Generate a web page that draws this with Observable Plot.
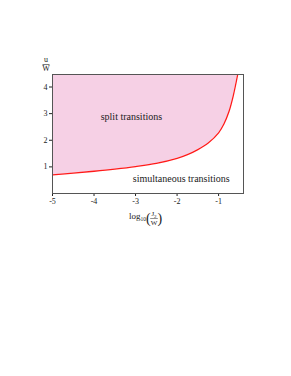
<!DOCTYPE html>
<html><head><meta charset="utf-8">
<script src="https://cdn.jsdelivr.net/npm/d3@7"></script>
<script src="https://cdn.jsdelivr.net/npm/@observablehq/plot@0.6"></script>
<style>
body{margin:0;background:#fff}
svg text{font-family:"Liberation Serif", serif !important;}
</style>
</head><body><div id="chart"></div>
<script>
const logJ2W = [-5, -4.5, -4, -3.5, -3, -2.5, -2, -1.75, -1.5, -1.25, -1.0, -0.875, -0.75, -0.65, -0.54];
const uW     = [0.70, 0.765, 0.835, 0.915, 1.01, 1.13, 1.32, 1.46, 1.65, 1.90, 2.28, 2.60, 3.08, 3.65, 4.47];
const xTicks = [-5, -4, -3, -2, -1];
const yTicks = [1, 2, 3, 4];
const regionLabels = ["split transitions", "simultaneous transitions"];
const regionX = [-3.1, -1.9];
const regionY = [2.88, 0.55];

const yTop = 4.47;
const data = logJ2W.map((x, i) => ({x, y: uW[i]}));
const labels = regionLabels.map((t, i) => ({t, x: regionX[i], y: regionY[i]}));
const font = '"Liberation Serif", serif';

const W = 291, H = 376, ml = 52, mr = 48, mt = 74, mb = 183;
const plot = Plot.plot({
  width: W, height: H,
  marginLeft: ml, marginRight: mr, marginTop: mt, marginBottom: mb,
  style: {fontFamily: font, fontSize: "8px", color: "#222", background: "#fff"},
  x: {domain: [-5, -0.4], ticks: xTicks, tickSize: 3, tickPadding: 2, label: null, tickFormat: d => String(d)},
  y: {domain: [0, yTop], ticks: yTicks, tickSize: 3, tickPadding: 2, label: null, tickFormat: d => String(d)},
  marks: [
    Plot.areaY(data, {x: "x", y1: "y", y2: yTop, fill: "#f6d0e5", curve: "catmull-rom", clip: true}),
    Plot.line(data, {x: "x", y: "y", stroke: "#ff1a1a", strokeWidth: 1.3, curve: "catmull-rom", clip: true}),
    Plot.frame({stroke: "#555", strokeWidth: 1}),
    Plot.text(labels, {x: "x", y: "y", text: "t", fontSize: 10, fill: "#222", fontFamily: font})
  ]
});
document.getElementById("chart").appendChild(plot);

const svg = d3.select(plot);
const g = svg.append("g").attr("fill", "#222").attr("text-anchor", "start").style("font-family", font);
// y label u / W
const yx = ml - 6;
g.append("text").attr("x", yx).attr("y", mt - 12).attr("text-anchor", "middle").attr("font-size", 8).text("u");
g.append("line").attr("x1", yx - 3.5).attr("x2", yx + 3.5).attr("y1", mt - 9.5).attr("y2", mt - 9.5).attr("stroke", "#222").attr("stroke-width", 0.6);
g.append("text").attr("x", yx).attr("y", mt - 3).attr("text-anchor", "middle").attr("font-size", 8).text("W");
// x label log10(J2/W), laid out from measured text widths
const by = H - mb;
let cur = 129;
const lg = g.append("text").attr("x", cur).attr("y", by + 26).attr("font-size", 9);
lg.append("tspan").text("log");
lg.append("tspan").attr("font-size", 5.5).attr("dy", 2).text("10");
cur += lg.node().getComputedTextLength();
const lp = g.append("text").attr("x", cur).attr("y", by + 30).attr("font-size", 14).text("(");
cur += lp.node().getComputedTextLength() - 0.5;
const num = g.append("text").attr("y", by + 23).attr("font-size", 7);
num.append("tspan").text("J");
num.append("tspan").attr("font-size", 5).attr("dy", 1.5).text("2");
const den = g.append("text").attr("y", by + 31.5).attr("font-size", 7).text("W");
const fw = Math.max(num.node().getComputedTextLength(), den.node().getComputedTextLength()) + 1;
num.attr("x", cur + (fw - num.node().getComputedTextLength()) / 2);
den.attr("x", cur + (fw - den.node().getComputedTextLength()) / 2);
g.append("line").attr("x1", cur).attr("x2", cur + fw).attr("y1", by + 25.5).attr("y2", by + 25.5).attr("stroke", "#222").attr("stroke-width", 0.5);
cur += fw - 0.3;
g.append("text").attr("x", cur).attr("y", by + 30).attr("font-size", 14).text(")");
</script></body></html>
